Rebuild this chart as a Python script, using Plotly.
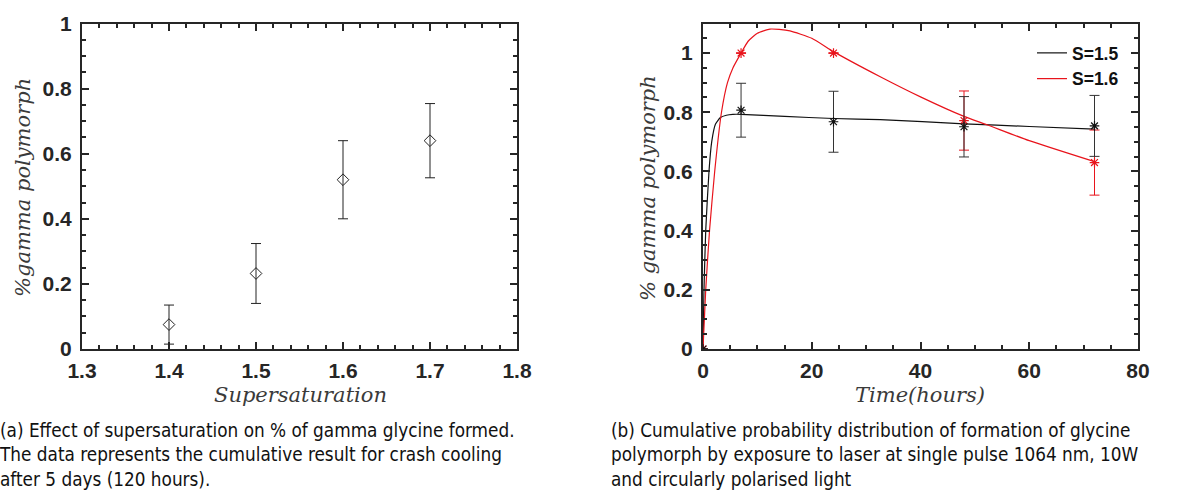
import plotly.graph_objects as go

# ---------------- data: panel (a) ----------------
supersaturation = [1.4, 1.5, 1.6, 1.7]
gamma_fraction = [0.075, 0.232, 0.52, 0.64]
gamma_err = [0.06, 0.092, 0.12, 0.114]

# ---------------- data: panel (b) ----------------
time_h = [0, 7, 24, 48, 72]
s15_vals = [0, 0.807, 0.768, 0.751, 0.754]
s15_err = [0, 0.091, 0.103, 0.102, 0.103]
s16_vals = [0, 1.0, 1.0, 0.772, 0.63]
s16_err = [0, 0, 0, 0.1, 0.11]

fit15_t = [0, 0.18, 0.5, 1.1, 1.6, 2.3, 3.2, 4.3, 5.5, 7, 15, 24, 32.6, 48, 60, 72]
fit15_y = [0, 0.2, 0.4, 0.6, 0.7, 0.76, 0.782, 0.79, 0.793, 0.793, 0.786, 0.779, 0.775, 0.761, 0.752, 0.743]
fit16_t = [0, 0.5, 1.2, 2.15, 3.4, 4.5, 5.5, 7, 8.3, 10, 12.3, 14, 16, 20, 24, 32.6, 40, 48, 52.2, 60, 72]
fit16_y = [0, 0.2, 0.4, 0.6, 0.8, 0.9, 0.95, 1.0, 1.04, 1.067, 1.081, 1.08, 1.075, 1.05, 1.005, 0.92, 0.852, 0.786, 0.758, 0.704, 0.633]

legend_names = ["S=1.5", "S=1.6"]
caption_a = ("(a) Effect of supersaturation on % of gamma glycine formed.<br>"
             "The data represents the cumulative result for crash cooling<br>"
             "after 5 days (120 hours).")
caption_b = ("(b) Cumulative probability distribution of formation of glycine<br>"
             "polymorph by exposure to laser at single pulse 1064 nm, 10W<br>"
             "and circularly polarised light")

W, H = 1202, 492
AX = "#262626"
TICKFONT = dict(family="Liberation Sans, Arial", size=21, color=AX, weight="bold")
TITLEFONT = dict(family="DejaVu Serif", size=21, color="#3a3a3a", style="italic")
CAPFONT = dict(family="DejaVu Sans Condensed, Open Sans", size=18.8, color="#111111")

fig = go.Figure()

# panel (a)
fig.add_trace(go.Scatter(
    x=supersaturation, y=gamma_fraction, mode="markers",
    marker=dict(symbol="diamond-open", size=9, color="#222", line=dict(width=1, color="#222")),
    error_y=dict(type="data", array=gamma_err, color="#222", thickness=1, width=5),
    xaxis="x", yaxis="y", showlegend=False))

# panel (b) fitted curves
fig.add_trace(go.Scatter(
    x=fit15_t, y=fit15_y, mode="lines", name=legend_names[0],
    line=dict(color="#111", width=1.2, shape="spline", smoothing=0.5),
    xaxis="x2", yaxis="y2"))
fig.add_trace(go.Scatter(
    x=fit16_t, y=fit16_y, mode="lines", name=legend_names[1],
    line=dict(color="#e8141c", width=1.2, shape="spline", smoothing=0.5),
    xaxis="x2", yaxis="y2"))

# panel (b) data points
fig.add_trace(go.Scatter(
    x=time_h, y=s16_vals, mode="markers",
    marker=dict(symbol="asterisk-open", size=8, color="#e8141c", line=dict(width=1.2, color="#e8141c")),
    error_y=dict(type="data", array=s16_err, color="#e8141c", thickness=1, width=5),
    xaxis="x2", yaxis="y2", showlegend=False))
fig.add_trace(go.Scatter(
    x=time_h, y=s15_vals, mode="markers",
    marker=dict(symbol="asterisk-open", size=8, color="#111", line=dict(width=1.2, color="#111")),
    error_y=dict(type="data", array=s15_err, color="#333", thickness=1, width=5),
    xaxis="x2", yaxis="y2", showlegend=False))

# empty traces so the mirrored (top/right) tick axes are drawn
for xa, ya in (("x3", "y3"), ("x4", "y4")):
    fig.add_trace(go.Scatter(x=[], y=[], xaxis=xa, yaxis=ya, showlegend=False, hoverinfo="skip"))

tick = dict(ticks="inside", tickcolor=AX, tickwidth=2, ticklen=7,
            showgrid=False, zeroline=False, fixedrange=True, automargin=False)
common = dict(showline=True, linecolor=AX, linewidth=2, mirror=True,
              tickfont=TICKFONT, **tick)
mirror_ax = dict(showline=False, showticklabels=False, **tick)

def minor(d):
    return dict(dtick=d, ticks="inside", ticklen=4, tickcolor=AX, tickwidth=2)

xd1 = [82 / W, 517 / W]
xd2 = [703 / W, 1138 / W]
ydom = [(H - 349) / H, (H - 23.5) / H]

fig.update_layout(
    width=W, height=H, margin=dict(l=0, r=0, t=0, b=0),
    paper_bgcolor="white", plot_bgcolor="white",
    xaxis=dict(domain=xd1, range=[1.3, 1.8], dtick=0.1, tick0=1.3, tickformat=".1f",
               minor=minor(0.02), ticklabelstandoff=2, anchor="y", **common),
    yaxis=dict(domain=ydom, range=[0, 1], dtick=0.2, tickformat="~g",
               minor=minor(0.05), ticklabelstandoff=4, anchor="x", **common),
    xaxis3=dict(overlaying="x", side="top", anchor="y", range=[1.3, 1.8], dtick=0.1,
                tick0=1.3, minor=minor(0.02), **mirror_ax),
    yaxis3=dict(overlaying="y", side="right", anchor="x", range=[0, 1], dtick=0.2,
                minor=minor(0.05), **mirror_ax),
    xaxis2=dict(domain=xd2, range=[0, 80], dtick=20,
                minor=minor(5), ticklabelstandoff=2, anchor="y2", **common),
    yaxis2=dict(domain=ydom, range=[0, 1.1], dtick=0.2, tickformat="~g",
                minor=minor(0.05), ticklabelstandoff=4, anchor="x2", **common),
    xaxis4=dict(overlaying="x2", side="top", anchor="y2", range=[0, 80], dtick=20,
                minor=minor(5), **mirror_ax),
    yaxis4=dict(overlaying="y2", side="right", anchor="x2", range=[0, 1.1], dtick=0.2,
                minor=minor(0.05), **mirror_ax),
    legend=dict(x=1032 / W, y=1 - 35 / H, xanchor="left", yanchor="top",
                bgcolor="rgba(0,0,0,0)", borderwidth=0,
                font=dict(family="Liberation Sans, Arial", size=17.5, color="#111", weight="bold"),
                itemwidth=30, tracegroupgap=0),
    annotations=[
        dict(text="Supersaturation", x=300 / W, y=1 - 395 / H, xref="paper", yref="paper",
             xanchor="center", yanchor="middle", showarrow=False, font=TITLEFONT),
        dict(text="%gamma polymorph", x=23 / W, y=1 - 188 / H, xref="paper", yref="paper",
             xanchor="center", yanchor="middle", textangle=-90, showarrow=False, font=TITLEFONT),
        dict(text="Time(hours)", x=920 / W, y=1 - 395 / H, xref="paper", yref="paper",
             xanchor="center", yanchor="middle", showarrow=False, font=TITLEFONT),
        dict(text="% gamma polymorph", x=648 / W, y=1 - 188 / H, xref="paper", yref="paper",
             xanchor="center", yanchor="middle", textangle=-90, showarrow=False, font=TITLEFONT),
        dict(text=caption_a, x=-3 / W, y=1 - 418 / H, xref="paper", yref="paper",
             xanchor="left", yanchor="top", align="left", showarrow=False, font=CAPFONT),
        dict(text=caption_b, x=609 / W, y=1 - 418 / H, xref="paper", yref="paper",
             xanchor="left", yanchor="top", align="left", showarrow=False, font=CAPFONT),
    ],
)

fig.write_html("out.html")
